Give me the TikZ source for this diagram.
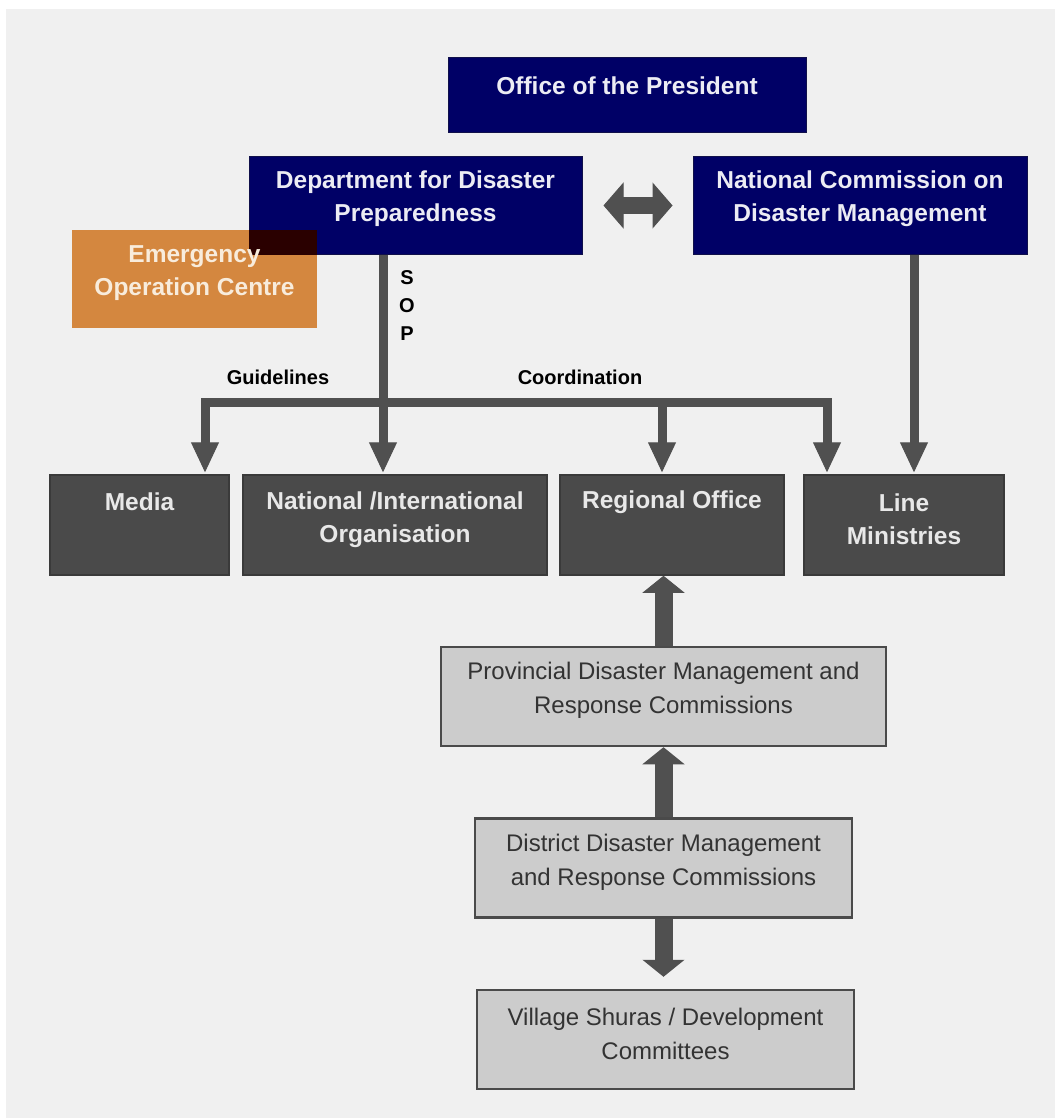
\documentclass[tikz,border=0pt]{standalone}
\usepackage{fontspec}
\setmainfont{Liberation Sans}
\usetikzlibrary{arrows.meta}
\definecolor{navy}{HTML}{000066}
\definecolor{navyedge}{HTML}{10104A}
\definecolor{navytxt}{HTML}{ECECF4}
\definecolor{ochre}{HTML}{D4873F}
\definecolor{ochretxt}{HTML}{F8ECDC}
\definecolor{overlap}{HTML}{2A0000}
\definecolor{darkfill}{HTML}{4A4A4A}
\definecolor{darkedge}{HTML}{3A3A3A}
\definecolor{darktxt}{HTML}{E8E8E8}
\definecolor{greyfill}{HTML}{CCCCCC}
\definecolor{greyedge}{HTML}{4A4A4A}
\definecolor{greytxt}{HTML}{333333}
\definecolor{arrowgrey}{HTML}{505050}
\definecolor{backgr}{HTML}{F0F0F0}
\newcommand{\hdbf}{\fontsize{24.5}{33}\selectfont\bfseries}
\newcommand{\rmtxt}{\fontsize{24}{34}\selectfont}
\newcommand{\notebf}{\fontsize{20}{28}\selectfont\bfseries}

\begin{document}
\begin{tikzpicture}[x=1pt,y=-1pt,
   flowtip/.tip={Triangle[length=30pt,width=28pt,line width=1pt]},
   fattip/.tip={Triangle[length=17pt,width=42pt,line width=1pt]},
   dbltip/.tip={Triangle[length=20pt,width=46pt,line width=1pt]},
   navybox/.style={rectangle,draw=navyedge,line width=1pt,fill=navy,inner sep=0pt},
   navytext/.style={text=navytxt,align=center,font=\hdbf},
   darkbox/.style={rectangle,draw=darkedge,line width=1.5pt,fill=darkfill,inner sep=0pt,minimum height=100pt},
   darktext/.style={text=darktxt,align=center,font=\hdbf},
   greybox/.style={rectangle,draw=greyedge,line width=2.5pt,fill=greyfill,inner sep=0pt,minimum height=99pt},
   greytext/.style={text=greytxt,align=center,font=\rmtxt},
   flow/.style={draw=arrowgrey,line width=9pt,-flowtip},
   fat/.style={draw=arrowgrey,line width=18pt,-fattip},
   note/.style={text=black,font=\notebf,align=center}]

   \fill[white]  (   0,   0) rectangle (1055,1118);
   \fill[backgr] (   6,   9) rectangle (1055,1118);

   \node[navybox,minimum width=358pt,minimum height=75pt] (pres) at ( 627,  95.5) {};
   \node[navybox,minimum width=333pt,minimum height=97pt] (dept) at ( 415.5,205.5) {};
   \node[navybox,minimum width=334pt,minimum height=97pt] (ncdm) at ( 860, 205.5) {};
   \node[rectangle,fill=ochre,inner sep=0pt,minimum width=245pt,minimum height=98pt] (eoc) at ( 194.5,279) {};
   \fill[overlap] (eoc.north east) rectangle (dept.south west);

   \node[navytext] (prestxt) at ( 627,  86) {Office of the President};
   \node[navytext] (depttxt) at ( 415.5,199) {Department for Disaster\\Preparedness};
   \node[navytext] (ncdmtxt) at ( 860, 199) {National Commission on\\Disaster Management};
   \node[text=ochretxt,align=center,font=\hdbf] (eoctxt) at ( 194.5,273.5) {Emergency\\Operation Centre};

   \node[darkbox,minimum width=179pt] (media) at ( 139.5,525) {};
   \node[darkbox,minimum width=304pt] (natl)  at ( 395, 525) {};
   \node[darkbox,minimum width=224pt] (reg)   at ( 672, 525) {};
   \node[darkbox,minimum width=200pt] (line)  at ( 904, 525) {};
   \node[darktext] (mediatxt) at ( 139.5,502) {Media};
   \node[darktext] (natltxt)  at ( 395, 519.5) {National /International\\Organisation};
   \node[darktext] (regtxt)   at ( 672, 502) {Regional Office};
   \node[darktext] (linetxt)  at ( 904, 519.5) {Line\\Ministries};

   \node[greybox,minimum width=445pt] (prov) at ( 663.5, 696.5) {};
   \node[greybox,minimum width=377pt] (dist) at ( 663.5, 868) {};
   \node[greybox,minimum width=377pt] (vill) at ( 665.5,1039.5) {};
   \node[greytext] (provtxt) at ( 663.5, 690) {Provincial Disaster Management and\\Response Commissions};
   \node[greytext] (disttxt) at ( 663.5, 862) {District Disaster Management\\and Response Commissions};
   \node[greytext] (villtxt) at ( 665.5,1034) {Village Shuras / Development\\Committees};

   \node[note] (sop)   at ( 407, 306) {S\\O\\P};
   \node[note] (guide) at ( 278, 377) {Guidelines};
   \node[note] (coord) at ( 580, 377) {Coordination};

   \coordinate (busL) at ( 205, 402);
   \coordinate (busM) at ( 662, 402);
   \coordinate (busR) at ( 827, 402);
   \coordinate (sopx) at ( 383, 402);
   \coordinate (ncx)  at ( 914, 402);

   \draw[flow,flowtip-flowtip,shorten <=2pt,shorten >=2pt]
         (media.north -| busL) |- (busR) -- (line.north -| busR);
   \draw[flow,shorten >=2pt] (busM) -- (reg.north -| busM);
   \draw[flow,shorten >=2pt] (dept.south -| sopx) -- (natl.north -| sopx);
   \draw[flow,shorten >=2pt] (ncdm.south -| ncx) -- (line.north -| ncx);

   \draw[draw=arrowgrey,line width=17pt,dbltip-dbltip,shorten <=21pt,shorten >=20pt] (dept) -- (ncdm);

   \draw[fat] (prov.north) -- (reg.south -| prov.north);
   \draw[fat] (dist.north) -- (prov.south);
   \draw[fat,shorten >=12pt] (dist.south) -- (vill.north -| dist.south);
\end{tikzpicture}
\end{document}
